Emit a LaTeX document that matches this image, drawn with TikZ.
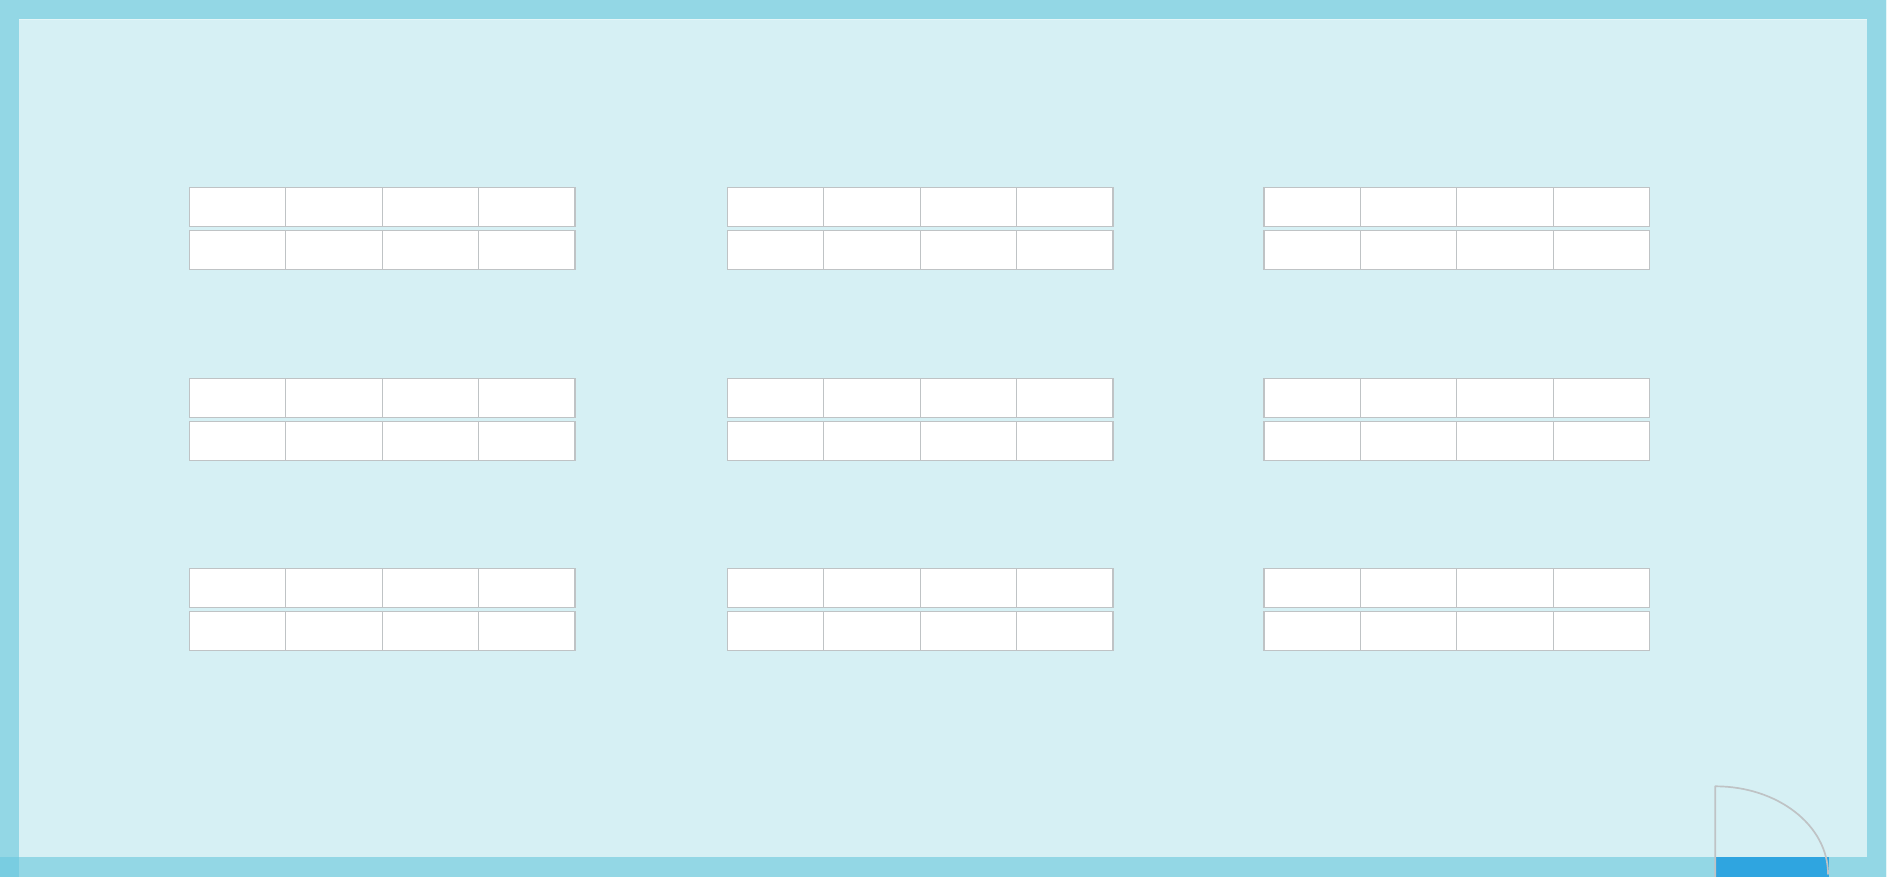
\documentclass[tikz,border=0pt]{standalone}
\definecolor{room}{HTML}{D6F0F4}
\definecolor{band}{HTML}{93D7E5}
\definecolor{corner}{HTML}{79CDE1}
\definecolor{edgeglow}{HTML}{E4F6F8}
\definecolor{door}{HTML}{2FA5E0}
\definecolor{cellline}{HTML}{BFC3C5}
\tikzset{
  x=1pt,y=-1pt,
  desk/.style={draw=cellline,line width=1.2pt,fill=white,rectangle,inner sep=0pt,outer sep=0pt,minimum width=96.4pt,minimum height=39pt,anchor=north west},
  doorline/.style={draw=cellline,line width=1.7pt,line cap=round,line join=round}
}
\begin{document}
\begin{tikzpicture}
\useasboundingbox (0,0) rectangle (1887,877);
% room and wall bands
\fill[room] (0,0) rectangle (1887,877);
\fill[band] (0,0) rectangle (1887,19);
\fill[band] (0,19) rectangle (19,857);
\fill[band] (1866.5,19) rectangle (1886,857.3);
\fill[band] (19,857.3) rectangle (1886,877);
\fill[corner] (0,857.3) rectangle (19,877);
\fill[edgeglow] (19,18.6) rectangle (1866.5,19.6);
\fill[edgeglow] (1886,0) rectangle (1887,877);
% desks
\foreach \gx [count=\c] in {189.3,727.3,1264} {
  \foreach \ry [count=\r] in {187.7,378.4,568.8} {
    \foreach \s in {0,1,2,3} {
      \node[desk] (d\c-\r-\s-a) at ({\gx+96.4*\s},\ry) {};
      \node[desk] (d\c-\r-\s-b) at ({\gx+96.4*\s},\ry+43) {};
    }
  }
}
% door
\fill[door] (1716,857.3) rectangle (1829,877);
\draw[doorline] (1715.3,877) -- (1715.3,786.3) .. controls (1777.7,786.3) and (1828,825.4) .. (1828,874);
\end{tikzpicture}
\end{document}
